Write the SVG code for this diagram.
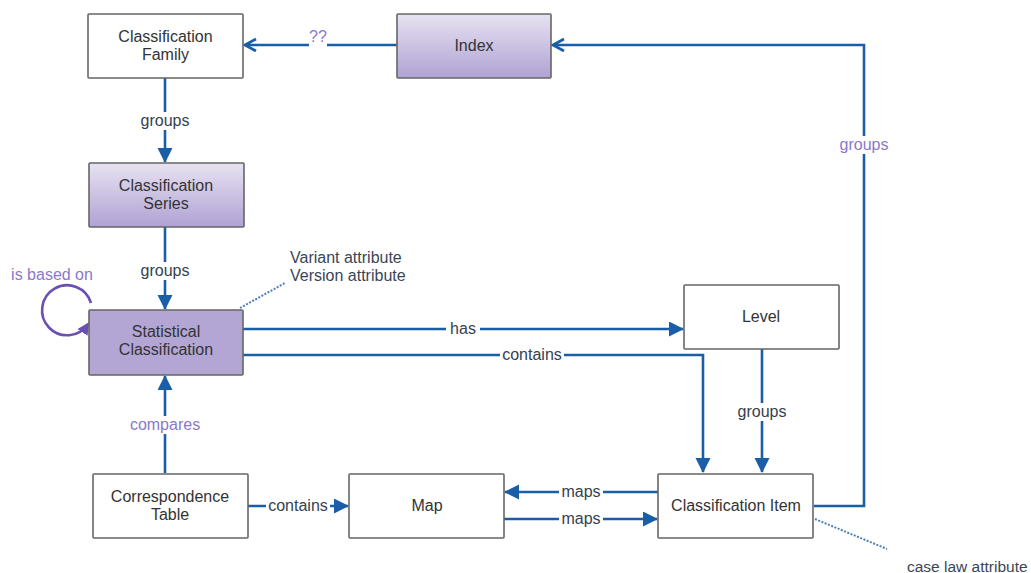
<svg xmlns="http://www.w3.org/2000/svg" width="1031" height="573" viewBox="0 0 1031 573">
<style>
.box{stroke:#666;stroke-width:1.6}
.plain{fill:#fff}
.grad{fill:url(#pg)}
.solid{fill:#b3a6d5}
.nt{font-family:"Liberation Sans",Arial,sans-serif;font-size:16px;fill:#333;text-anchor:middle}
.lb{font-family:"Liberation Sans",Arial,sans-serif;font-size:16px;fill:#34414f;text-anchor:middle}
.lp{font-family:"Liberation Sans",Arial,sans-serif;font-size:16px;fill:#8a78c9;text-anchor:middle}
.at{font-family:"Liberation Sans",Arial,sans-serif;font-size:16px;fill:#3a4656}
.ln{fill:none;stroke:#1b5ea8;stroke-width:2.6}
.dot{fill:none;stroke:#4f7fb8;stroke-width:2;stroke-dasharray:2 1.5}
.bg{fill:#fff}
</style>
<defs>
<linearGradient id="pg" x1="0" y1="0" x2="0" y2="1">
<stop offset="0" stop-color="#e7e2f2"/>
<stop offset="1" stop-color="#b0a2d3"/>
</linearGradient>
<marker id="tri" markerUnits="userSpaceOnUse" markerWidth="16" markerHeight="16" refX="14" refY="7.5" orient="auto" viewBox="0 0 16 16">
<path d="M0,0 L15,7.5 L0,15 z" fill="#1b5ea8"/>
</marker>
<marker id="chev" markerUnits="userSpaceOnUse" markerWidth="16" markerHeight="16" refX="12" refY="7" orient="auto" viewBox="0 0 16 16">
<path d="M1,1 L12,7 L1,13" fill="none" stroke="#1b5ea8" stroke-width="2.8"/>
</marker>
<marker id="ptri" markerUnits="userSpaceOnUse" markerWidth="14" markerHeight="14" refX="10" refY="6" orient="auto" viewBox="0 0 14 14">
<path d="M0,0 L12,6 L0,12 z" fill="#6c4fb4"/>
</marker>
</defs>

<g id="connectors">
<path class="ln" d="M397,45 L245,45" marker-end="url(#chev)"/>
<path class="ln" d="M165,78 L165,162" marker-end="url(#tri)"/>
<path class="ln" d="M165,227 L165,309" marker-end="url(#tri)"/>
<path class="ln" d="M165,473 L165,376" marker-end="url(#tri)"/>
<path class="ln" d="M243,329 L683,329" marker-end="url(#tri)"/>
<path class="ln" d="M243,355 L703,355 L703,472" marker-end="url(#tri)"/>
<path class="ln" d="M762,349 L762,472" marker-end="url(#tri)"/>
<path class="ln" d="M814,506 L864,506 L864,45 L553,45" marker-end="url(#chev)"/>
<path class="ln" d="M248,506 L348,506" marker-end="url(#tri)"/>
<path class="ln" d="M658,492 L505,492" marker-end="url(#tri)"/>
<path class="ln" d="M504,519 L657,519" marker-end="url(#tri)"/>
<path class="dot" d="M240,308 L285,283"/>
<path class="dot" d="M815,519 L887,549"/>
<path d="M91,303 A25,25 0 1 0 88,324" fill="none" stroke="#6c4fb4" stroke-width="2.6" marker-end="url(#ptri)"/>

<rect class="bg" x="309" y="30" width="18" height="18"/>
<text class="lp" x="318" y="42">??</text>
<rect class="bg" x="139" y="112" width="52" height="18"/>
<text class="lb" x="165" y="126">groups</text>
<rect class="bg" x="139" y="262" width="52" height="18"/>
<text class="lb" x="165" y="276">groups</text>
<rect class="bg" x="446" y="320" width="34" height="18"/>
<text class="lb" x="463" y="334">has</text>
<rect class="bg" x="500" y="346" width="64" height="18"/>
<text class="lb" x="532" y="360">contains</text>
<rect class="bg" x="736" y="403" width="52" height="18"/>
<text class="lb" x="762" y="417">groups</text>
<rect class="bg" x="838" y="136" width="52" height="18"/>
<text class="lp" x="864" y="150">groups</text>
<rect class="bg" x="128" y="416" width="74" height="18"/>
<text class="lp" x="165" y="430">compares</text>
<rect class="bg" x="266" y="497" width="64" height="18"/>
<text class="lb" x="298" y="511">contains</text>
<rect class="bg" x="559" y="483" width="44" height="18"/>
<text class="lb" x="581" y="497">maps</text>
<rect class="bg" x="559" y="510" width="44" height="18"/>
<text class="lb" x="581" y="524">maps</text>
<text class="lp" x="52" y="280">is based on</text>
</g>

<g id="classification-family"><rect class="box plain" x="88" y="14" width="155" height="64" rx="1"/><text class="nt" x="165.5" y="42">Classification</text><text class="nt" x="165.5" y="60">Family</text></g>
<g id="index"><rect class="box grad" x="397" y="14" width="154" height="64" rx="1"/><text class="nt" x="474" y="51">Index</text></g>
<g id="classification-series"><rect class="box grad" x="89" y="163" width="155" height="64" rx="1"/><text class="nt" x="166" y="191">Classification</text><text class="nt" x="166" y="209">Series</text></g>
<g id="statistical-classification"><rect class="box solid" x="89" y="310" width="154" height="65" rx="1"/><text class="nt" x="166" y="337">Statistical</text><text class="nt" x="166" y="355">Classification</text></g>
<g id="level"><rect class="box plain" x="684" y="285" width="155" height="64" rx="1"/><text class="nt" x="761" y="322">Level</text></g>
<g id="classification-item"><rect class="box plain" x="658" y="474" width="155" height="64" rx="1"/><text class="nt" x="736" y="511">Classification Item</text></g>
<g id="map"><rect class="box plain" x="349" y="474" width="155" height="64" rx="1"/><text class="nt" x="427" y="511">Map</text></g>
<g id="correspondence-table"><rect class="box plain" x="93" y="474" width="155" height="64" rx="1"/><text class="nt" x="170" y="502">Correspondence</text><text class="nt" x="170" y="520">Table</text></g>

<g id="annotations">
<text class="at" x="290" y="263">Variant attribute</text>
<text class="at" x="290" y="281">Version attribute</text>
<text class="at" x="907" y="572" style="font-size:15.5px">case law attribute</text>
</g>
</svg>
